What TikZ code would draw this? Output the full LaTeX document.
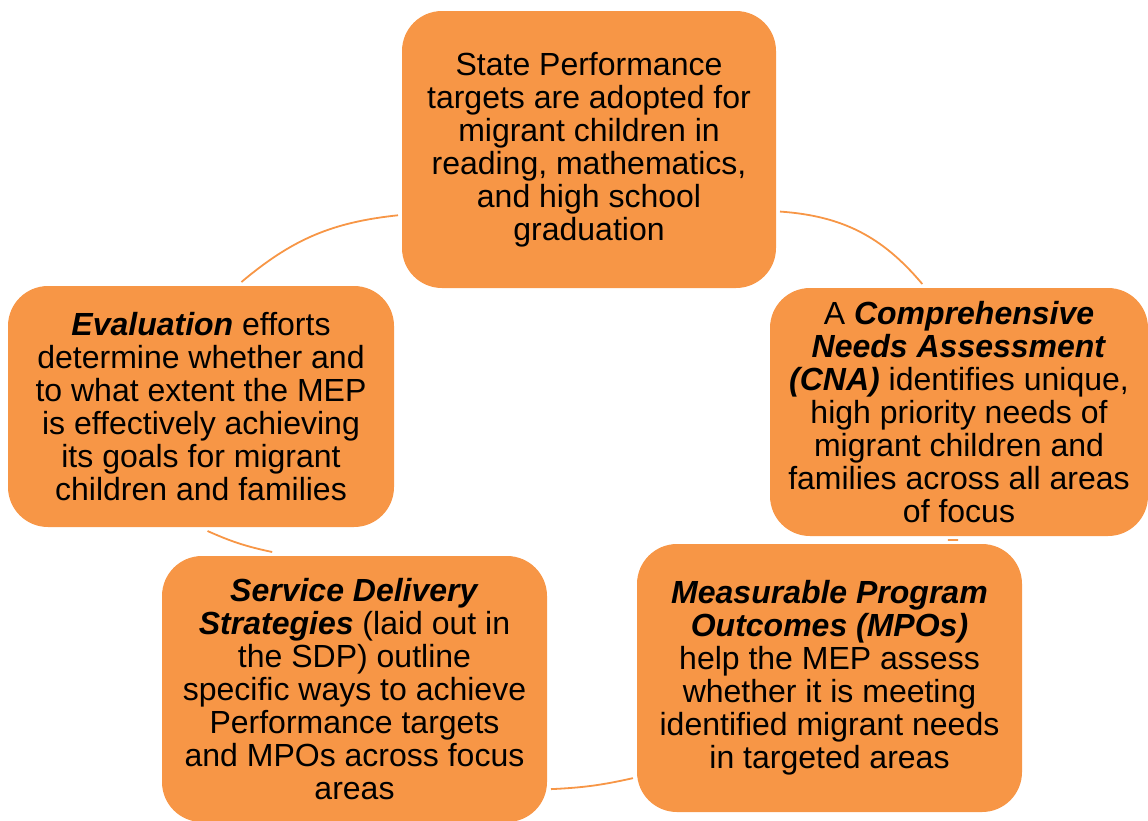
\documentclass[tikz,border=0pt]{standalone}
\usepackage{fontspec}
\setmainfont{Liberation Sans}
\definecolor{mepOrange}{HTML}{F79646}
\newcommand{\keyterm}[1]{\textbf{\textit{#1}}}

\begin{document}
\begin{tikzpicture}[x=1pt, y=1pt,
                    phasenode/.style={rectangle, rounded corners=40pt, fill=mepOrange, inner sep=0pt, outer sep=4pt, align=center, font=\fontsize{32}{33}\selectfont},
                    arcline/.style={draw=mepOrange, line width=1.8pt},
                ]
                    \useasboundingbox (0,0) rectangle (1148,-820);

                    %Nodes
                    \node[phasenode, minimum width=374pt, minimum height=277pt](perf) at (589,-149.5) {State Performance\\targets are adopted for\\migrant children in\\reading, mathematics,\\and high school\\graduation};
                    \node[phasenode, minimum width=378pt, minimum height=248pt](cna) at (959,-412) {A \keyterm{Comprehensive}\\\keyterm{Needs Assessment}\\\keyterm{(CNA)} identifies unique,\\high priority needs of\\migrant children and\\families across all areas\\of focus};
                    \node[phasenode, minimum width=385pt, minimum height=268pt](mpo) at (829.5,-678) {\keyterm{Measurable Program}\\\keyterm{Outcomes (MPOs)}\\help the MEP assess\\whether it is meeting\\identified migrant needs\\in targeted areas};
                    \node[phasenode, minimum width=385pt, minimum height=266pt](sds) at (354.5,-689) {\keyterm{Service Delivery}\\\keyterm{Strategies} (laid out in\\the SDP) outline\\specific ways to achieve\\Performance targets\\and MPOs across focus\\areas};
                    \node[phasenode, minimum width=386pt, minimum height=241pt](eval) at (201,-406.5) {\keyterm{Evaluation} efforts\\determine whether and\\to what extent the MEP\\is effectively achieving\\its goals for migrant\\children and families};

                    %Lines
                    \draw[arcline] (perf.342) to[bend left=23] (cna.106);
                    \draw[arcline] (cna.265) to[bend left=2] (mpo.47);
                    \draw[arcline] (mpo.207) to[bend left=5] (sds.333);
                    \draw[arcline] (sds.121) to[bend left=6] (eval.273);
                    \draw[arcline] (eval.72) to[bend left=17] (perf.199);
                \end{tikzpicture}
\end{document}
